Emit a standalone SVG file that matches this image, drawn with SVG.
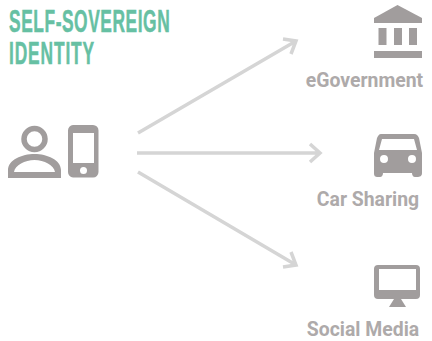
<svg xmlns="http://www.w3.org/2000/svg" width="432" height="341" viewBox="0 0 432 341">
<style>
.lbl{font-family:Roboto,"Liberation Sans",sans-serif;font-weight:700;font-size:19.4px;fill:#aeaaaa;text-anchor:middle}
.ttl{font-family:"Liberation Sans",sans-serif;font-weight:700;font-size:31px;fill:#66c0a3;stroke:#66c0a3;stroke-width:.5}
.ic{fill:#a19d9d}
.cn{fill:none;stroke:#d5d5d5;stroke-width:3.5}
</style>
<rect width="432" height="341" fill="#fff"/>
<g id="title">
<text class="ttl" transform="translate(9 32) scale(.56 1.03)" textLength="287" lengthAdjust="spacing">SELF-SOVEREIGN</text>
<text class="ttl" transform="translate(9 64) scale(.56 1.03)" textLength="152" lengthAdjust="spacing">IDENTITY</text>
</g>
<g id="connectors" class="cn">
<path d="M138 133L296 41M283 39L296 41L291 54"/>
<path d="M137 153H320M310 144L320 153L310 162"/>
<path d="M138 172L296 265M291 252L296 265L283 267"/>
</g>
<g id="user">
<circle cx="34.500" cy="139" r="10.500" fill="none" stroke="#a19d9d" stroke-width="5.500"/>
<path class="ic" fill-rule="evenodd" d="M8 178V170C8 160 22 154 34.500 154S61 160 61 170V178ZM14 172H55C54 165 44 160 34.500 160S15 165 14 172Z"/>
<path class="ic" fill-rule="evenodd" d="M73 125H93A5.500 5.500 0 0 1 98.500 130.500V172A5.500 5.500 0 0 1 93 177.500H73A5.500 5.500 0 0 1 68 172V130.500A5.500 5.500 0 0 1 73 125ZM73 133V163H94V133ZM83.500 167A3.500 3.500 0 1 0 83.500 174A3.500 3.500 0 1 0 83.500 167Z"/>
</g>
<g id="egovernment">
<path class="ic" d="M397.500 5L374 18V23H422V18Z"/>
<rect class="ic" x="378.500" y="28" width="8" height="17"/>
<rect class="ic" x="394" y="28" width="8" height="17"/>
<rect class="ic" x="409" y="28" width="8" height="17"/>
<rect class="ic" x="374" y="51" width="48" height="7"/>
<text class="lbl" x="364.500" y="87">eGovernment</text>
</g>
<g id="car-sharing">
<path class="ic" fill-rule="evenodd" d="M381 134H414C417 134 418 136 419 138L422 153V173C422 176 420 177 417 177H415C413 177 412 175 412 173H383C383 175 382 177 380 177H378C375 177 374 176 374 173V153L377 138C378 136 379 134 381 134ZM382 139L379 150H417L414 139ZM384 155A4 4 0 1 0 384 163A4 4 0 1 0 384 155ZM412 155A4 4 0 1 0 412 163A4 4 0 1 0 412 155Z"/>
<text class="lbl" x="368" y="206">Car Sharing</text>
</g>
<g id="social-media">
<path class="ic" fill-rule="evenodd" d="M378 265H416A4 4 0 0 1 420 269V295A4 4 0 0 1 416 299H378A4 4 0 0 1 374 295V269A4 4 0 0 1 378 265ZM379 269V290H416V269Z"/>
<path class="ic" d="M394 299H401L406 307H389Z"/>
<text class="lbl" x="363" y="336">Social Media</text>
</g>
</svg>
